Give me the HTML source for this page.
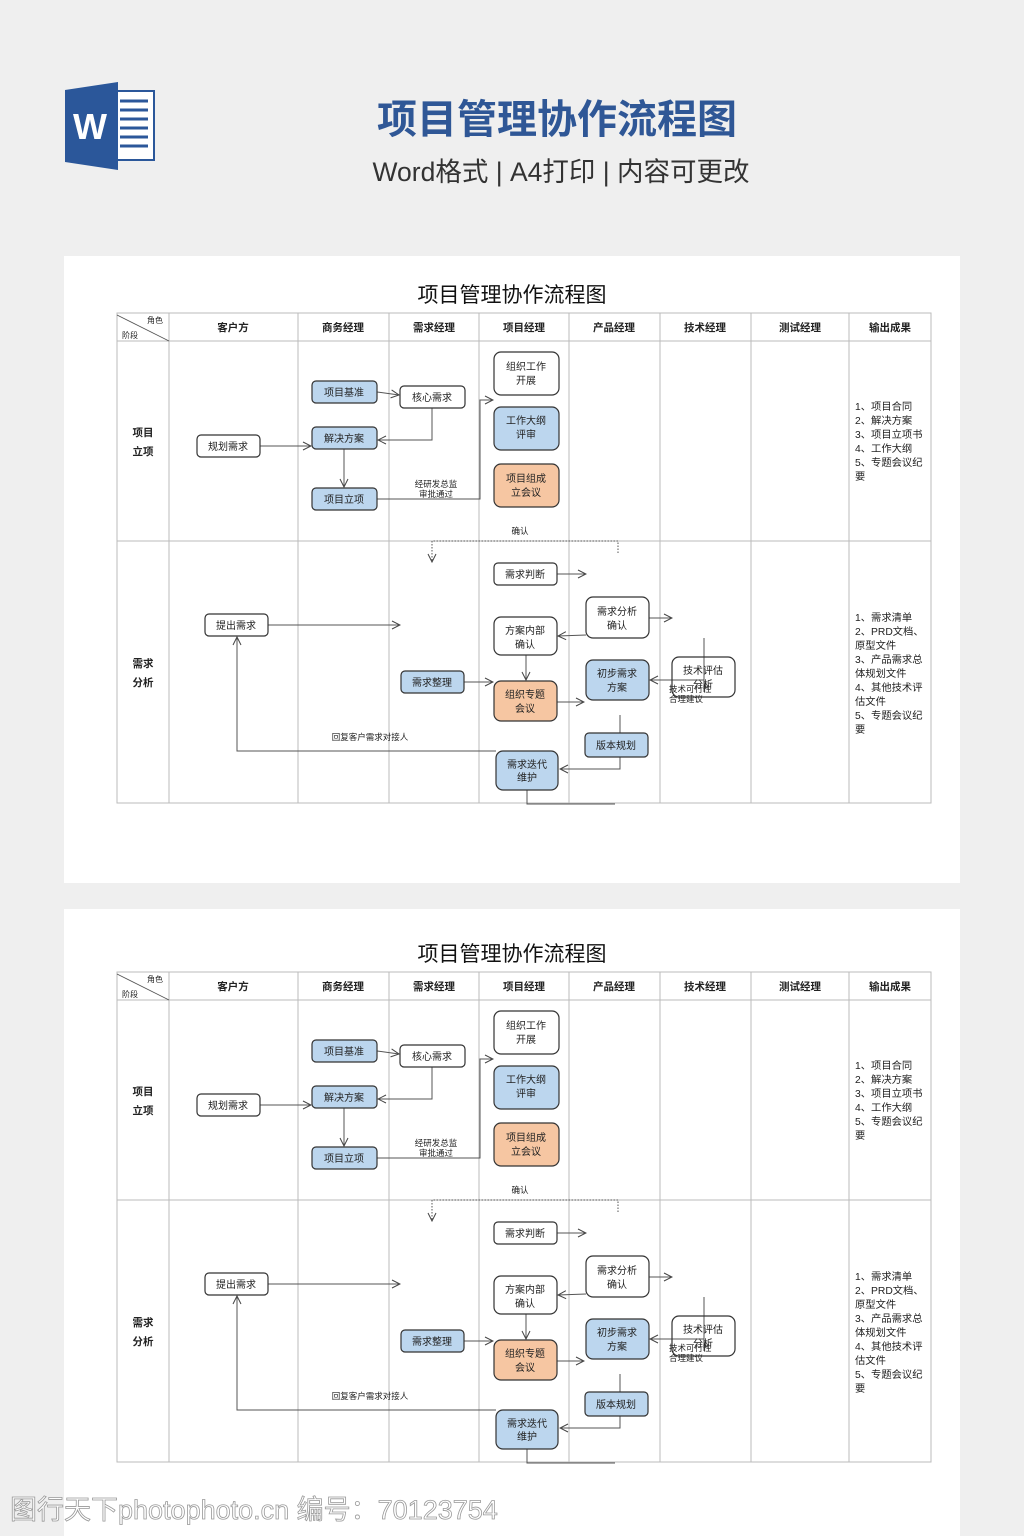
<!DOCTYPE html>
<html><head><meta charset="utf-8">
<style>
html,body{margin:0;padding:0;}
body{width:1024px;height:1536px;background:#efefef;position:relative;overflow:hidden;font-family:"Liberation Sans","Noto Sans CJK SC",sans-serif;}
svg{position:absolute;left:0;top:0;}
</style></head>
<body>
<svg width="1024" height="1536" viewBox="0 0 1024 1536" xmlns="http://www.w3.org/2000/svg" font-family="Liberation Sans, Noto Sans CJK SC, sans-serif">
<defs>
<marker id="ar" markerWidth="10" markerHeight="10" refX="9" refY="5" orient="auto" markerUnits="userSpaceOnUse">
<path d="M1,1 L9,5 L1,9" fill="none" stroke="#444" stroke-width="1"/>
</marker>
<g id="d">
<text x="512" y="302" font-size="21" text-anchor="middle" fill="#111">项目管理协作流程图</text>
<g stroke="#bbb" stroke-width="1" fill="none">
<rect x="117" y="313" width="814" height="490"/>
<line x1="117" y1="341" x2="931" y2="341"/>
<line x1="117" y1="541" x2="931" y2="541"/>
<line x1="169" y1="313" x2="169" y2="803"/>
<line x1="298" y1="313" x2="298" y2="803"/>
<line x1="389" y1="313" x2="389" y2="803"/>
<line x1="479" y1="313" x2="479" y2="803"/>
<line x1="569" y1="313" x2="569" y2="803"/>
<line x1="660" y1="313" x2="660" y2="803"/>
<line x1="751" y1="313" x2="751" y2="803"/>
<line x1="849" y1="313" x2="849" y2="803"/>
</g>
<line x1="117" y1="315" x2="169" y2="341" stroke="#555" stroke-width="0.8"/>
<g font-size="8" fill="#222"><text x="147" y="323">角色</text><text x="122" y="338">阶段</text></g>
<g font-size="10.5" font-weight="bold" fill="#222" text-anchor="middle">
<text x="233" y="331">客户方</text><text x="343" y="331">商务经理</text><text x="434" y="331">需求经理</text>
<text x="524" y="331">项目经理</text><text x="614" y="331">产品经理</text><text x="705" y="331">技术经理</text>
<text x="800" y="331">测试经理</text><text x="890" y="331">输出成果</text>
<text x="143" y="436">项目</text><text x="143" y="455">立项</text>
<text x="143" y="667">需求</text><text x="143" y="686">分析</text>
</g>
<g font-size="10.3" fill="#222">
<text x="855" y="410">1、项目合同</text><text x="855" y="424">2、解决方案</text><text x="855" y="438">3、项目立项书</text>
<text x="855" y="452">4、工作大纲</text><text x="855" y="466">5、专题会议纪</text><text x="855" y="480">要</text>
<text x="855" y="621">1、需求清单</text><text x="855" y="635">2、PRD文档、</text><text x="855" y="649">原型文件</text>
<text x="855" y="663">3、产品需求总</text><text x="855" y="677">体规划文件</text><text x="855" y="691">4、其他技术评</text>
<text x="855" y="705">估文件</text><text x="855" y="719">5、专题会议纪</text><text x="855" y="733">要</text>
</g>
<g stroke="#555" stroke-width="1" fill="none">
<line x1="260" y1="446" x2="311" y2="446" marker-end="url(#ar)"/>
<line x1="377" y1="392" x2="399" y2="395" marker-end="url(#ar)"/>
<polyline points="432,408 432,440 378,440" marker-end="url(#ar)"/>
<line x1="344" y1="449" x2="344" y2="487" marker-end="url(#ar)"/>
<polyline points="377,499 480,499 480,400 493,400" marker-end="url(#ar)"/>
<polyline points="618,553 618,541 432,541 432,562" stroke-dasharray="1.5,1.5" marker-end="url(#ar)"/>
<line x1="557" y1="574" x2="586" y2="574" marker-end="url(#ar)"/>
<line x1="268" y1="625" x2="400" y2="625" marker-end="url(#ar)"/>
<line x1="649" y1="618" x2="672" y2="618" marker-end="url(#ar)"/>
<line x1="586" y1="635" x2="558" y2="636" marker-end="url(#ar)"/>
<line x1="526" y1="655" x2="526" y2="680" marker-end="url(#ar)"/>
<line x1="464" y1="682" x2="493" y2="682" marker-end="url(#ar)"/>
<line x1="557" y1="702" x2="584" y2="702" marker-end="url(#ar)"/>
<line x1="704" y1="638" x2="704" y2="692"/>
<line x1="704" y1="680" x2="650" y2="680" marker-end="url(#ar)"/>
<polyline points="620,715 620,769 560,769" marker-end="url(#ar)"/>
<polyline points="496,751 237,751 237,637" marker-end="url(#ar)"/>
<polyline points="527,790 527,804 615,804"/>
</g>
<g stroke="#333" stroke-width="1.2">
<rect x="197" y="435" width="63" height="22" rx="4" fill="#fff"/>
<rect x="312" y="381" width="65" height="22" rx="4" fill="#bcd6ee"/>
<rect x="312" y="427" width="65" height="22" rx="4" fill="#bcd6ee"/>
<rect x="312" y="488" width="65" height="22" rx="4" fill="#bcd6ee"/>
<rect x="400" y="386" width="65" height="22" rx="4" fill="#fff"/>
<rect x="494" y="352" width="65" height="43" rx="7" fill="#fff"/>
<rect x="494" y="407" width="65" height="43" rx="7" fill="#bcd6ee"/>
<rect x="494" y="464" width="65" height="43" rx="7" fill="#f6c6a2"/>
<rect x="494" y="563" width="63" height="22" rx="4" fill="#fff"/>
<rect x="494" y="617" width="63" height="38" rx="7" fill="#fff"/>
<rect x="586" y="597" width="63" height="41" rx="7" fill="#fff"/>
<rect x="586" y="660" width="63" height="40" rx="7" fill="#bcd6ee"/>
<rect x="672" y="657" width="63" height="40" rx="7" fill="none"/>
<rect x="401" y="671" width="63" height="22" rx="4" fill="#bcd6ee"/>
<rect x="494" y="681" width="63" height="40" rx="7" fill="#f6c6a2"/>
<rect x="585" y="733" width="63" height="24" rx="4" fill="#bcd6ee"/>
<rect x="496" y="751" width="62" height="39" rx="7" fill="#bcd6ee"/>
<rect x="205" y="614" width="63" height="22" rx="4" fill="#fff"/>
</g>
<g font-size="10" fill="#222" text-anchor="middle">
<text x="228" y="450">规划需求</text>
<text x="344" y="396">项目基准</text><text x="344" y="442">解决方案</text><text x="344" y="503">项目立项</text>
<text x="432" y="401">核心需求</text>
<text x="526" y="370">组织工作</text><text x="526" y="384">开展</text>
<text x="526" y="424">工作大纲</text><text x="526" y="438">评审</text>
<text x="526" y="482">项目组成</text><text x="526" y="496">立会议</text>
<text x="525" y="578">需求判断</text>
<text x="525" y="634">方案内部</text><text x="525" y="648">确认</text>
<text x="617" y="615">需求分析</text><text x="617" y="629">确认</text>
<text x="617" y="677">初步需求</text><text x="617" y="691">方案</text>
<text x="703" y="674">技术评估</text><text x="703" y="688">分析</text>
<text x="432" y="686">需求整理</text>
<text x="525" y="698">组织专题</text><text x="525" y="712">会议</text>
<text x="616" y="749">版本规划</text>
<text x="527" y="768">需求迭代</text><text x="527" y="781">维护</text>
<text x="236" y="629">提出需求</text>
</g>
<g font-size="8.5" fill="#222">
<text x="436" y="487" text-anchor="middle">经研发总监</text><text x="436" y="497" text-anchor="middle">审批通过</text>
<text x="520" y="534" text-anchor="middle">确认</text>
<text x="669" y="692">技术可行性</text><text x="669" y="702">合理建议</text>
<text x="370" y="740" text-anchor="middle">回复客户需求对接人</text>
</g>
</g>
</defs>

<path d="M65,90 L118,82 L118,170 L65,162 Z" fill="#2b579a"/>
<rect x="117" y="91" width="37" height="69" fill="#fff" stroke="#2b579a" stroke-width="2"/>
<g stroke="#2b579a" stroke-width="3">
<line x1="120" y1="101" x2="148" y2="101"/><line x1="120" y1="110" x2="148" y2="110"/>
<line x1="120" y1="119" x2="148" y2="119"/><line x1="120" y1="128" x2="148" y2="128"/>
<line x1="120" y1="137" x2="148" y2="137"/><line x1="120" y1="146" x2="148" y2="146"/>
</g>
<text x="90" y="139" font-size="36" font-weight="bold" fill="#fff" text-anchor="middle">W</text>
<text x="557" y="133" font-size="40" font-weight="bold" fill="#2f5796" text-anchor="middle">项目管理协作流程图</text>
<text x="561" y="181" font-size="26.5" fill="#333" text-anchor="middle">Word格式 | A4打印 | 内容可更改</text>

<rect x="64" y="256" width="896" height="627" fill="#fff"/>
<rect x="64" y="909" width="896" height="627" fill="#fff"/>
<use href="#d"/>
<use href="#d" transform="translate(0,659)"/>

<text x="10" y="1519" font-size="27" fill="#fff" stroke="#999" stroke-width="0.8">图行天下photophoto.cn 编号：70123754</text>
</svg>
</body></html>
